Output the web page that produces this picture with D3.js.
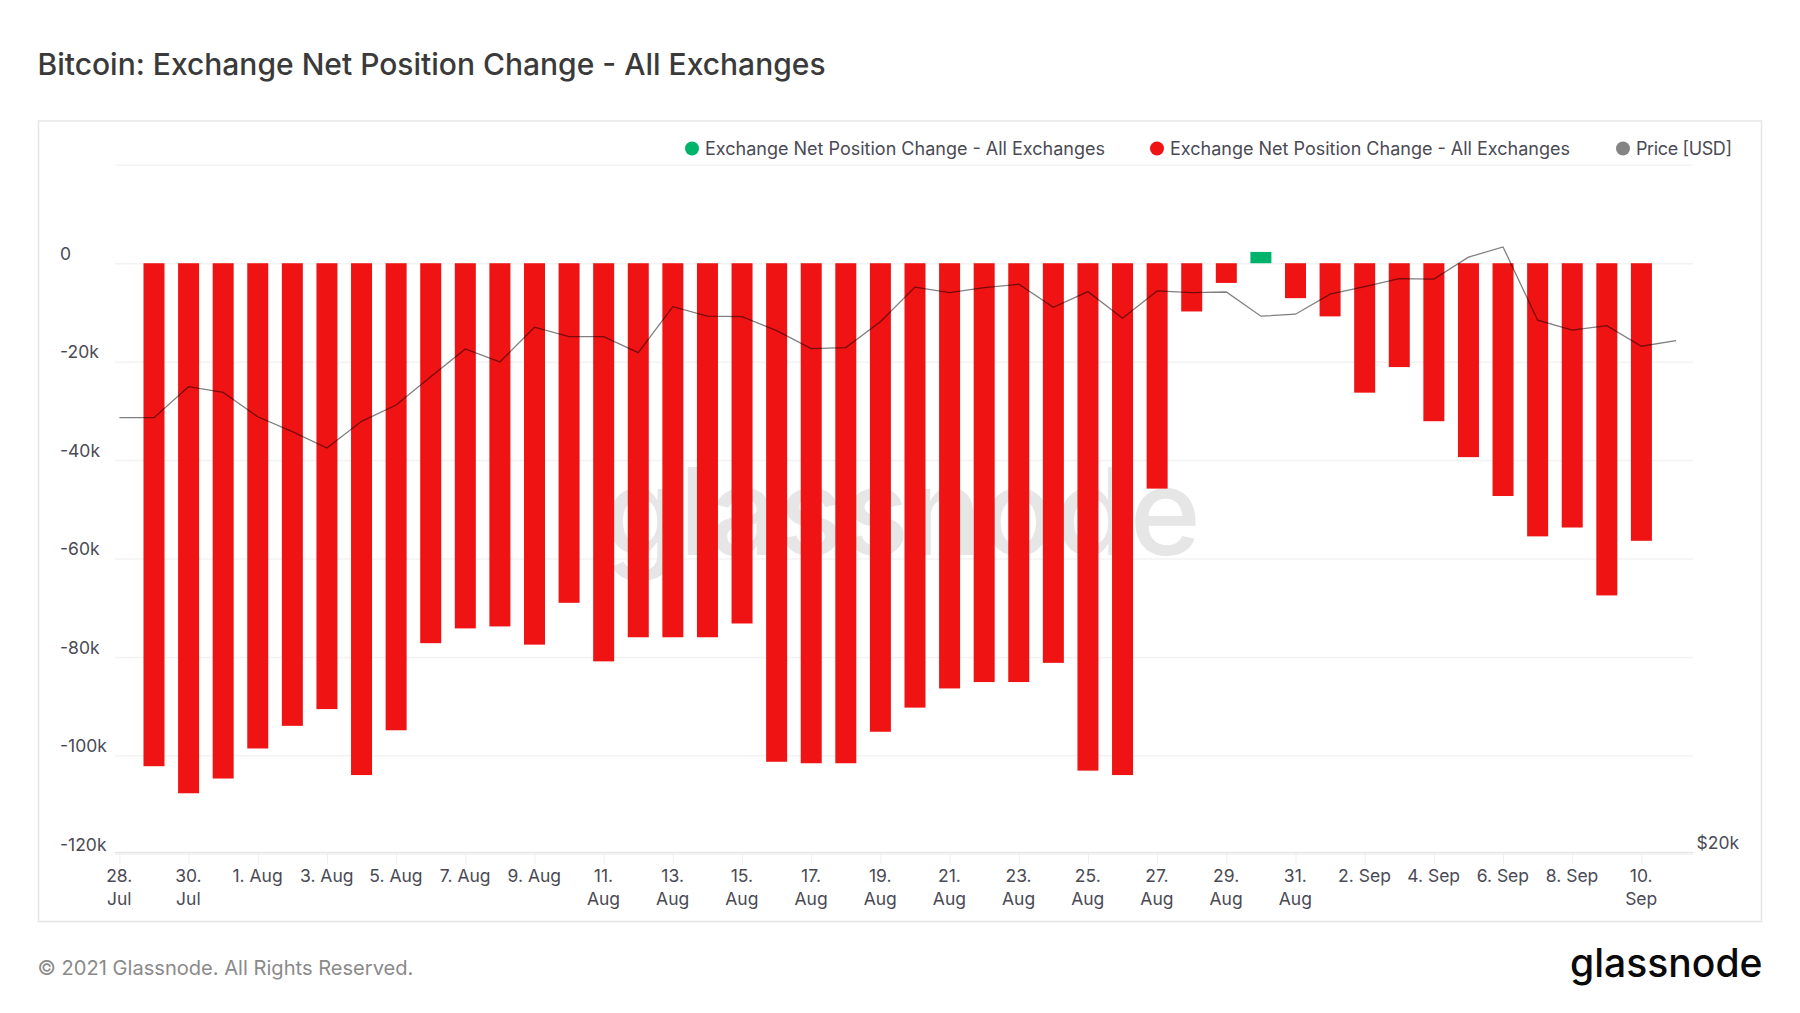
<!DOCTYPE html>
<html>
<head>
<meta charset="utf-8">
<script src="https://cdn.jsdelivr.net/npm/d3@7"></script>
<style>
  html, body { margin: 0; background: #fff; }
  text { font-family: Inter, "Noto Sans", sans-serif; }
</style>
</head>
<body>
<svg id="chart"></svg>
<script>
const width = 1800;
const height = 1013;

// net position change per day, 29 Jul - 10 Sep
const barDates = d3.utcDay.range(new Date(Date.UTC(2021, 6, 29)), new Date(Date.UTC(2021, 8, 11)));
const netChange = [
    -102200, -107700, -104700, -98600, -94000, -90600, -104000, -94900, -77200, -74200,
    -73800, -77500, -69000, -80900, -76000, -76000, -76000, -73200, -101300, -101600,
    -101600, -95200, -90300, -86400, -85100, -85100, -81200, -103100, -104000, -45800,
    -9800, -4000, 2300, -7100, -10800, -26300, -21100, -32100, -39400, -47300,
    -55500, -53700, -67500, -56400
];

// price per day, 28 Jul - 11 Sep
const priceDates = d3.utcDay.range(new Date(Date.UTC(2021, 6, 28)), new Date(Date.UTC(2021, 8, 12)));
const price = [
    40000, 40000, 42030, 41650, 40060, 39120, 38110, 39770, 40820, 42700,
    44640, 43720, 46210, 45520, 45520, 44370, 47750, 47030, 47000, 45960,
    44660, 44730, 46620, 49260, 48830, 49220, 49490, 47700, 48910, 46880,
    48960, 48830, 48880, 47030, 47180, 48710, 49300, 49930, 49890, 51670,
    52520, 46730, 45990, 46320, 44830, 45230
];

const yTicks = [20000, 0, -20000, -40000, -60000, -80000, -100000, -120000];
const yLabels = ["", "0", "-20k", "-40k", "-60k", "-80k", "-100k", "-120k"];

const xTicks = d3.utcDay.range(new Date(Date.UTC(2021, 6, 28)), new Date(Date.UTC(2021, 8, 11)), 2);
const xLabels = [
    "28.|Jul", "30.|Jul", "1. Aug", "3. Aug", "5. Aug", "7. Aug", "9. Aug", "11.|Aug",
    "13.|Aug", "15.|Aug", "17.|Aug", "19.|Aug", "21.|Aug", "23.|Aug", "25.|Aug", "27.|Aug",
    "29.|Aug", "31.|Aug", "2. Sep", "4. Sep", "6. Sep", "8. Sep", "10.|Sep"
];

const legendLabels = [
    "Exchange Net Position Change - All Exchanges",
    "Exchange Net Position Change - All Exchanges",
    "Price [USD]"
];

const red = "#ef1313";
const green = "#00b36b";
const grey = "#848484";
const legendColors = [green, red, grey];
const legendDotX = [692, 1157, 1623];
const legendTextX = [705, 1170, 1636];
const legendTextWidth = [400, 400, 96];

const svg = d3.select("#chart")
    .attr("width", width)
    .attr("height", height)
    .attr("viewBox", [0, 0, width, height])
    .style("display", "block");

let x = d3.scaleUtc()
    .domain([new Date(Date.UTC(2021, 6, 28)), new Date(Date.UTC(2021, 8, 11))])
    .range([119.4, 1676]);

let y = d3.scaleLinear()
    .domain([-120000, 20000])
    .range([853.8, 164.8]);

// price axis is logarithmic, only the $20k tick shows
let yPrice = d3.scaleLog()
    .domain([20000, 40000])
    .range([852.3, 417.7]);

const barWidth = 21;
const gridRight = 1693;

svg.append("text")
    .attr("x", 37.5)
    .attr("y", 75)
    .attr("font-size", 30)
    .attr("font-weight", 500)
    .attr("fill", "#3a3a3a")
    .text("Bitcoin: Exchange Net Position Change - All Exchanges");

svg.append("rect")
    .attr("x", 38.5)
    .attr("y", 121)
    .attr("width", 1723)
    .attr("height", 800.5)
    .attr("fill", "#fff")
    .attr("stroke", "#e6e6e6")
    .attr("stroke-width", 1.5);

// gridlines + left labels
const yAxis = svg.append("g")
    .attr("transform", "translate(115,0)")
    .call(d3.axisRight(y)
        .tickValues(yTicks)
        .tickSize(gridRight - 115)
        .tickFormat((d, i) => yLabels[i]));
yAxis.select(".domain").remove();
yAxis.selectAll("line").attr("stroke", "#f3f3f3").attr("stroke-width", 1.5);
yAxis.selectAll("text")
    .attr("x", -55)
    .attr("dy", -3.8)
    .attr("text-anchor", "start")
    .attr("font-size", 17.5)
    .attr("fill", "#4a4a55")
    .style("font-family", "Inter");

// watermark sits under the bars
svg.append("text")
    .attr("x", 604)
    .attr("y", 555)
    .attr("font-size", 121)
    .attr("font-weight", 500)
    .attr("textLength", 597)
    .attr("lengthAdjust", "spacingAndGlyphs")
    .attr("fill", "#e6e6e6")
    .text("glassnode");

svg.append("g")
    .selectAll("rect")
    .data(netChange)
    .enter().append("rect")
    .attr("x", (d, i) => x(barDates[i]) - barWidth / 2)
    .attr("y", d => y(Math.max(d, 0)))
    .attr("width", barWidth)
    .attr("height", d => Math.abs(y(d) - y(0)))
    .attr("fill", d => d < 0 ? red : green);

const line = d3.line()
    .x((d, i) => x(priceDates[i]))
    .y(d => yPrice(d));

svg.append("path")
    .datum(price)
    .attr("d", line)
    .attr("fill", "none")
    .attr("stroke", "#000")
    .attr("stroke-opacity", 0.5)
    .attr("stroke-width", 1.3);

// bottom axis
const xAxis = svg.append("g")
    .attr("transform", "translate(0,852.5)")
    .call(d3.axisBottom(x)
        .tickValues(xTicks)
        .tickSize(11)
        .tickFormat((d, i) => xLabels[i]));
xAxis.select(".domain").remove();
xAxis.selectAll("line").attr("stroke", "#efefef").attr("stroke-width", 1);
xAxis.selectAll("text")
    .attr("font-size", 17.5)
    .attr("fill", "#4a4a55")
    .style("font-family", "Inter")
    .each(function (d, i) {
        const parts = xLabels[i].split("|");
        const t = d3.select(this).text(null).attr("y", 0).attr("dy", null);
        parts.forEach((p, j) => {
            t.append("tspan")
                .attr("x", -0.7)
                .attr("y", 29.5 + j * 23)
                .text(p);
        });
    });

svg.append("line")
    .attr("x1", 115)
    .attr("x2", gridRight)
    .attr("y1", 852.5)
    .attr("y2", 852.5)
    .attr("stroke", "#e6e6e6")
    .attr("stroke-width", 1.5);

svg.append("text")
    .attr("x", 1696.5)
    .attr("y", 849)
    .attr("font-size", 17.5)
    .attr("fill", "#4a4a55")
    .text("$20k");

const legend = svg.append("g");
legend.selectAll("circle")
    .data(legendLabels)
    .enter().append("circle")
    .attr("cx", (d, i) => legendDotX[i])
    .attr("cy", 148.5)
    .attr("r", 7)
    .attr("fill", (d, i) => legendColors[i]);
legend.selectAll("text")
    .data(legendLabels)
    .enter().append("text")
    .attr("x", (d, i) => legendTextX[i])
    .attr("y", 155)
    .attr("font-size", 18)
    .attr("textLength", (d, i) => legendTextWidth[i])
    .attr("fill", "#4a4a55")
    .text(d => d);

svg.append("text")
    .attr("x", 37.5)
    .attr("y", 975)
    .attr("font-size", 20.1)
    .attr("fill", "#8a8a8a")
    .text("© 2021 Glassnode. All Rights Reserved.");

svg.append("text")
    .attr("x", 1570)
    .attr("y", 977)
    .attr("font-size", 39)
    .attr("font-weight", 500)
    .attr("textLength", 192.5)
    .attr("lengthAdjust", "spacingAndGlyphs")
    .attr("fill", "#0a0a0a")
    .text("glassnode");
</script>
</body>
</html>
